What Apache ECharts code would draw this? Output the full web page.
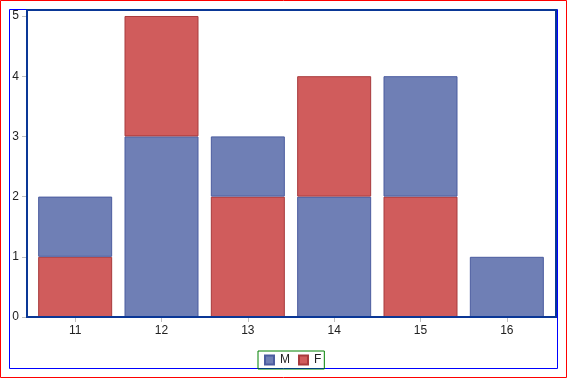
<!DOCTYPE html>
<html><head><meta charset="utf-8">
<script src="https://cdn.jsdelivr.net/npm/echarts@6/dist/echarts.min.js"></script>
<style>html,body{margin:0;padding:0;background:#fff}#c{width:567px;height:378px}</style>
</head><body><div id="c"></div>
<script>
var categories = ['11','12','13','14','15','16'];
// bottom segments
var mBottom = ['-', 3, '-', 2, '-', 1];
var fBottom = [1, '-', 2, '-', 2, '-'];
// top segments
var mTop = [1, '-', 1, '-', 2, '-'];
var fTop = ['-', 2, '-', 2, '-', '-'];
var yTicks = [0,1,2,3,4,5];

var M_COLOR = '#6f7fb5', M_BORDER = '#4b5c9f';
var F_COLOR = '#d05c5c', F_BORDER = '#a83a3c';
var FONT = 'Liberation Sans, Arial, sans-serif';

function bar(name, data, color, border){
  return {
    name: name, type: 'bar', stack: 'a', data: data,
    xAxisIndex: 1, yAxisIndex: 1, barWidth: 74,
    itemStyle: {color: color, borderColor: border, borderWidth: 1},
    emphasis: {disabled: true}
  };
}

var chart = echarts.init(document.getElementById('c'), null, {renderer: 'canvas'});
chart.setOption({
  animation: false,
  backgroundColor: '#fff',
  textStyle: {fontFamily: FONT},
  graphic: [
    {type: 'rect', shape: {x: 0.5, y: 0.5, width: 566, height: 377}, style: {fill: 'none', stroke: '#ff0000', lineWidth: 1}, silent: true},
    {type: 'rect', shape: {x: 9.5, y: 9.5, width: 548, height: 359}, style: {fill: 'none', stroke: '#0000ff', lineWidth: 1}, silent: true, z: -1}
  ],
  grid: [
    {left: 27, right: 11, top: 10, bottom: 61, show: true, borderColor: '#0a3796', borderWidth: 2, backgroundColor: 'transparent', z: 10},
    {left: 32, right: 17, top: 16, bottom: 61}
  ],
  legend: {
    data: ['M','F'], left: 258, top: 351,
    padding: [3, 3, 3, 6], itemWidth: 9, itemHeight: 9, itemGap: 8,
    borderColor: '#008000', borderWidth: 1,
    icon: 'rect',
    textStyle: {fontSize: 12, color: '#222', fontFamily: FONT, padding: [0,0,0,1]}
  },
  xAxis: [
    {gridIndex: 0, type: 'value', show: false, min: 0, max: 1},
    {gridIndex: 1, type: 'category', data: categories,
     axisLine: {show: false},
     axisTick: {show: true, alignWithLabel: true, length: 5, lineStyle: {color: '#c0c0c0'}},
     axisLabel: {margin: 8, fontSize: 12, color: '#222', fontFamily: FONT}}
  ],
  yAxis: [
    {gridIndex: 0, type: 'value', show: false, min: 0, max: 1},
    {gridIndex: 1, type: 'value', min: 0, max: 5, interval: 1, offset: 5,
     splitLine: {show: false},
     axisLine: {show: false},
     axisTick: {show: true, length: 5, lineStyle: {color: '#c0c0c0'}},
     axisLabel: {margin: 8, fontSize: 12, color: '#222', fontFamily: FONT,
       formatter: function(v){ return yTicks.indexOf(v) >= 0 ? String(v) : ''; }}}
  ],
  series: [
    bar('M', mBottom, M_COLOR, M_BORDER),
    bar('F', fBottom, F_COLOR, F_BORDER),
    bar('M', mTop, M_COLOR, M_BORDER),
    bar('F', fTop, F_COLOR, F_BORDER)
  ]
});
</script></body></html>
